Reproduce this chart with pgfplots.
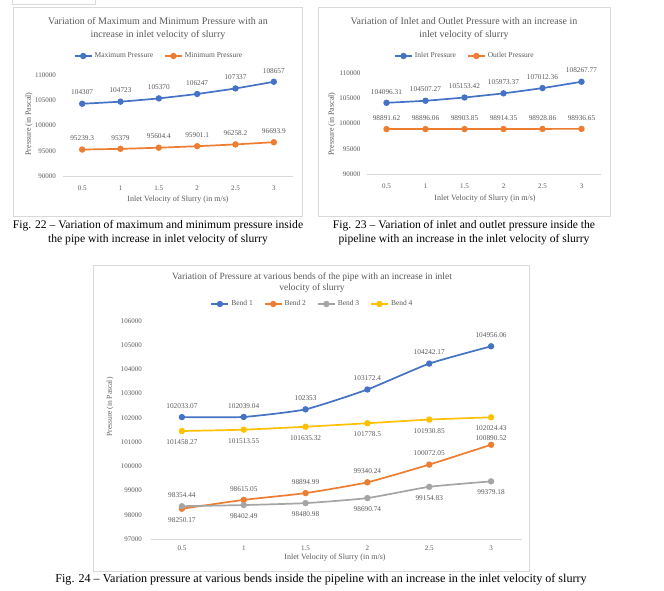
\documentclass[border=0pt]{standalone}
\usepackage{fontspec}
\setmainfont{Liberation Serif}
\usepackage{pgfplots}
\pgfplotsset{compat=1.18}

\definecolor{xblue}{HTML}{4472C4}
\definecolor{xorange}{HTML}{ED7D31}
\definecolor{xgrey}{HTML}{A5A5A5}
\definecolor{xyellow}{HTML}{FFC000}
\definecolor{txtgrey}{HTML}{595959}
\definecolor{linegrey}{HTML}{D9D9D9}

\pgfplotsset{
  excel/.style={
    scale only axis,
    anchor=south west,
    clip=false,
    xmin=0.5, xmax=6.5,
    xtick={1,...,6},
    xticklabels={0.5,1,1.5,2,2.5,3},
    scaled y ticks=false,
    axis x line*=bottom,
    axis y line*=left,
    y axis line style={draw=none},
    x axis line style={draw=linegrey, line width=0.8pt},
    major tick length=0pt,
    tick style={draw=none},
    ticklabel style={font=\fontsize{7}{8}\selectfont, text=txtgrey},
    point meta=explicit symbolic,
    every axis plot/.append style={line width=1.7pt, mark=*, mark size=2.3pt, smooth, tension=0.3},
    legend style={draw=none, fill=none, legend columns=-1,
      font=\fontsize{7.5}{9}\selectfont, text=txtgrey,
      /tikz/every even column/.append style={column sep=9pt}},
  },
  lab above/.style={nodes near coords,
    nodes near coords style={font=\fontsize{7.3}{8}\selectfont, text=txtgrey, anchor=south, yshift=4.5pt}},
  lab below/.style={nodes near coords,
    nodes near coords style={font=\fontsize{7.3}{8}\selectfont, text=txtgrey, anchor=north, yshift=-4.5pt}},
  lab close/.style={nodes near coords,
    nodes near coords style={font=\fontsize{7.3}{8}\selectfont, text=txtgrey, anchor=south, yshift=0pt}},
  lab only/.style={draw=none, mark=none, forget plot},
}

\begin{document}
\begin{tikzpicture}[x=1pt, y=-1pt]
\path[use as bounding box] (0,0) rectangle (664,591);

% cropped piece of the figure above
\draw[linegrey] (12,0) -- (12,4) -- (95,4) -- (95,0);

% frames
\draw[linegrey] (13,7) rectangle (302,216);
\draw[linegrey] (318,7) rectangle (610,216);
\draw[linegrey] (93,265) rectangle (529,571);

\coordinate (A) at (63,176);
\coordinate (B) at (367,174);
\coordinate (C) at (151,539);

% ---------- Fig. 22 ----------
\begin{axis}[excel, at={(A)}, width=230pt, height=101pt,
    ymin=90000, ymax=110000,
    ytick={90000,95000,100000,105000,110000},
    yticklabels={90000,95000,100000,105000,110000},
    xticklabel style={yshift=-6pt},
    yticklabel style={xshift=-3.5pt},
    legend style={at={(0.5,1)}, anchor=center, xshift=-19pt, yshift=19pt}]
\addplot[xblue, lab above] coordinates {
  (1,104307)[104307] (2,104723)[104723] (3,105370)[105370]
  (4,106247)[106247] (5,107337)[107337] (6,108657)[108657]};
\addplot[xorange, lab above] coordinates {
  (1,95239.3)[95239.3] (2,95379)[95379] (3,95604.4)[95604.4]
  (4,95901.1)[95901.1] (5,96258.2)[96258.2] (6,96693.9)[96693.9]};
\legend{Maximum Pressure, Minimum Pressure}
\end{axis}

% ---------- Fig. 23 ----------
\begin{axis}[excel, at={(B)}, width=234pt, height=101pt,
    ymin=90000, ymax=110000,
    ytick={90000,95000,100000,105000,110000},
    yticklabels={90000,95000,100000,105000,110000},
    xticklabel style={yshift=-6pt},
    yticklabel style={xshift=-3pt},
    legend style={at={(0.5,1)}, anchor=center, xshift=-19pt, yshift=17pt}]
\addplot[xblue, lab above] coordinates {
  (1,104096.31)[104096.31] (2,104507.27)[104507.27] (3,105153.42)[105153.42]
  (4,105973.37)[105973.37] (5,107012.36)[107012.36] (6,108267.77)[108267.77]};
\addplot[xorange, lab above] coordinates {
  (1,98891.62)[98891.62] (2,98896.06)[98896.06] (3,98903.85)[98903.85]
  (4,98914.35)[98914.35] (5,98928.86)[98928.86] (6,98936.65)[98936.65]};
\legend{Inlet Pressure, Outlet Pressure}
\end{axis}

% ---------- Fig. 24 ----------
\begin{axis}[excel, at={(C)}, width=371pt, height=218pt,
    ymin=97000, ymax=106000,
    ytick={97000,98000,...,106000},
    yticklabels={97000,98000,99000,100000,101000,102000,103000,104000,105000,106000},
    xticklabel style={yshift=-3pt},
    yticklabel style={xshift=-5.5pt},
    legend style={at={(0.5,1)}, anchor=center, xshift=-24pt, yshift=17pt}]
\addplot[xblue, lab above] coordinates {
  (1,102033.07)[102033.07] (2,102039.04)[102039.04] (3,102353)[102353]
  (4,103172.4)[103172.4] (5,104242.17)[104242.17] (6,104956.06)[104956.06]};
\addplot[xorange] coordinates {
  (1,98250.17) (2,98615.05) (3,98894.99) (4,99340.24) (5,100072.05) (6,100890.52)};
\addplot[xgrey] coordinates {
  (1,98354.44) (2,98402.49) (3,98480.98) (4,98690.74) (5,99154.83) (6,99379.18)};
\addplot[xyellow, lab below] coordinates {
  (1,101458.27)[101458.27] (2,101513.55)[101513.55] (3,101635.32)[101635.32]
  (4,101778.5)[101778.5] (5,101930.85)[101930.85] (6,102024.43)[102024.43]};
% labels of bends 2 and 3
\addplot[lab only, lab above] coordinates {
  (2,98615.05)[98615.05] (3,98894.99)[98894.99] (4,99340.24)[99340.24]
  (5,100072.05)[100072.05]};
\addplot[lab only, lab close] coordinates {(6,100890.52)[100890.52]};
\addplot[lab only, lab below] coordinates {(1,98250.17)[98250.17]};
\addplot[lab only, lab above] coordinates {(1,98354.44)[98354.44]};
\addplot[lab only, lab below] coordinates {
  (2,98402.49)[98402.49] (3,98480.98)[98480.98] (4,98690.74)[98690.74]
  (5,99154.83)[99154.83] (6,99379.18)[99379.18]};
\legend{Bend 1, Bend 2, Bend 3, Bend 4}
\end{axis}

% titles
\node[align=center, text=txtgrey, font=\fontsize{10}{13.3}\selectfont] at (158,28.5)
  {Variation of Maximum and Minimum Pressure with an\\increase in inlet velocity of slurry};
\node[align=center, text=txtgrey, font=\fontsize{10}{13.3}\selectfont] at (464,28.5)
  {Variation of Inlet and Outlet Pressure with an increase in\\inlet velocity of slurry};
\node[align=center, text=txtgrey, font=\fontsize{9.5}{11}\selectfont] at (312,282.5)
  {Variation of Pressure at various bends of the pipe with an increase in inlet\\velocity of slurry};

% axis titles
\node[text=txtgrey, font=\fontsize{8}{9}\selectfont] at (178,200) {Inlet Velocity of Slurry (in m/s)};
\node[text=txtgrey, font=\fontsize{8}{9}\selectfont] at (485,199) {Inlet Velocity of Slurry (in m/s)};
\node[text=txtgrey, font=\fontsize{8}{9}\selectfont] at (335,558) {Inlet Velocity of Slurry (in m/s)};
\node[rotate=90, text=txtgrey, font=\fontsize{8}{9}\selectfont] at (29,124) {Pressure (in Pascal)};
\node[rotate=90, text=txtgrey, font=\fontsize{8}{9}\selectfont] at (332,124) {Pressure (in Pascal)};
\node[rotate=90, text=txtgrey, font=\fontsize{7.5}{9}\selectfont] at (110,407) {Pressure (in Pascal)};

% captions
\node[align=center, font=\fontsize{11.6}{14}\selectfont] at (158,233)
  {Fig. 22 -- Variation of maximum and minimum pressure inside\\the pipe with increase in inlet velocity of slurry};
\node[align=center, font=\fontsize{11.6}{14}\selectfont] at (464,233)
  {Fig. 23 -- Variation of inlet and outlet pressure inside the\\pipeline with an increase in the inlet velocity of slurry};
\node[font=\fontsize{12.1}{14}\selectfont] at (321,580)
  {Fig. 24 -- Variation pressure at various bends inside the pipeline with an increase in the inlet velocity of slurry};
\end{tikzpicture}
\end{document}
